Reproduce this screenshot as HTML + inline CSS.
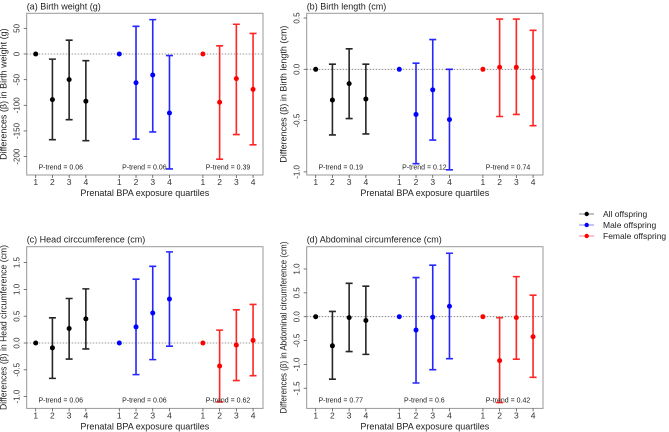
<!DOCTYPE html>
<html><head><meta charset="utf-8"><style>
body{margin:0;background:#fff;}
svg{display:block;font-family:"Liberation Sans",sans-serif;}
</style></head><body>
<svg id="chart" width="669" height="432" viewBox="0 0 669 432" xmlns="http://www.w3.org/2000/svg"></svg>
<script>
// ---- data ----
const groupNames = ["All offspring","Male offspring","Female offspring"];
const groupColors = ["#000000","#0000ff","#ff0000"];
const quartiles = ["1","2","3","4"];
// panel a: Birth weight (g)
const aEst = [[0,-89,-50,-92],[0,-56,-41,-115],[0,-94,-48,-69]];
const aLo  = [[0,-167,-128,-169],[0,-166,-152,-224],[0,-205,-157,-177]];
const aHi  = [[0,-10,27,-13],[0,54,67,-3],[0,16,58,40]];
const aTicks = [50,0,-50,-100,-150,-200];
const aP = ["0.06","0.06","0.39"];
// panel b: Birth length (cm)
const bEst = [[0,-0.30,-0.14,-0.29],[0,-0.44,-0.20,-0.49],[0,0.02,0.02,-0.08]];
const bLo  = [[0,-0.64,-0.48,-0.63],[0,-0.92,-0.69,-0.98],[0,-0.46,-0.44,-0.55]];
const bHi  = [[0,0.05,0.20,0.05],[0,0.06,0.29,0.00],[0,0.49,0.49,0.38]];
const bTicks = [0.5,0.0,-0.5,-1.0];
const bP = ["0.19","0.12","0.74"];
// panel c: Head circumference (cm)
const cEst = [[0,-0.09,0.27,0.45],[0,0.30,0.56,0.82],[0,-0.43,-0.04,0.05]];
const cLo  = [[0,-0.66,-0.30,-0.11],[0,-0.59,-0.31,-0.06],[0,-1.10,-0.70,-0.61]];
const cHi  = [[0,0.47,0.83,1.01],[0,1.19,1.43,1.70],[0,0.24,0.62,0.72]];
const cTicks = [1.5,1.0,0.5,0.0,-0.5,-1.0];
const cP = ["0.06","0.06","0.62"];
// panel d: Abdominal circumference (cm)
const dEst = [[0,-0.61,-0.02,-0.08],[0,-0.28,-0.01,0.22],[0,-0.92,-0.02,-0.42]];
const dLo  = [[0,-1.31,-0.73,-0.79],[0,-1.39,-1.11,-0.88],[0,-1.80,-0.89,-1.27]];
const dHi  = [[0,0.11,0.70,0.64],[0,0.82,1.08,1.33],[0,-0.02,0.84,0.45]];
const dTicks = [1.0,0.5,0.0,-0.5,-1.0,-1.5];
const dP = ["0.77","0.6","0.42"];

const NS="http://www.w3.org/2000/svg";
const svg=document.getElementById("chart");
function mk(tag,attrs,parent){const e=document.createElementNS(NS,tag);for(const k in attrs)e.setAttribute(k,attrs[k]);(parent||svg).appendChild(e);return e;}
function fmt(v,dec){return dec?v.toFixed(1):String(v);}

function panel(o){
  const g=mk("g",{});
  
  
  const L=o.x0,R=o.x0+236.3,T=o.y0,B=o.y0+161.7;
  const xs=i=>L+9+(i-1)*16.72;
  const ys=v=>o.zero-v*o.scale;
  const box=mk("rect",{x:L,y:T,width:R-L,height:B-T,fill:"none",stroke:"#999","stroke-width":1},g);
  
  
  const t=mk("text",{x:L,y:T-4,"font-size":9,fill:"#222"},g);t.textContent=o.title;
  
  
  const z=mk("line",{x1:L,x2:R,y1:ys(0),y2:ys(0),stroke:"#777","stroke-width":0.8,"stroke-dasharray":"1.5,1.5"},g);
  
  
  o.ticks.forEach(v=>{
    const y=ys(v);
    mk("line",{x1:L-3,x2:L,y1:y,y2:y,stroke:"#555","stroke-width":0.8},g);
    const tl=mk("text",{x:L-7,y:y,"font-size":8,fill:"#333","text-anchor":"middle",transform:`rotate(-90 ${L-7} ${y})`},g);
    tl.textContent=fmt(v,o.dec);
    
    
  });
  const yx=o.x0-20;
  const yt=mk("text",{x:yx,y:(T+B)/2,"font-size":9,fill:"#222","text-anchor":"middle",transform:`rotate(-90 ${yx} ${(T+B)/2})`},g);
  if(o.ylen){yt.setAttribute("textLength",o.ylen);yt.setAttribute("lengthAdjust","spacingAndGlyphs");}
  yt.textContent=o.ytitle;
  
  
  for(let gi=0;gi<3;gi++){
    for(let q=0;q<4;q++){
      const x=xs(gi*5+q+1);
      mk("line",{x1:x,x2:x,y1:B,y2:B+3,stroke:"#555","stroke-width":0.8},g);
      const xl=mk("text",{x:x,y:B+10,"font-size":8.5,fill:"#333","text-anchor":"middle"},g);
      xl.textContent=quartiles[q];
      
      
      const col=groupColors[gi];
      if(q>0){
        const eb=mk("path",{d:`M${x},${ys(o.lo[gi][q])}V${ys(o.hi[gi][q])}M${x-3.5},${ys(o.lo[gi][q])}H${x+3.5}M${x-3.5},${ys(o.hi[gi][q])}H${x+3.5}`,stroke:col,"stroke-width":1.6,fill:"none","stroke-opacity":0.85},g);
        
        
      }
      const pt=mk("circle",{cx:x,cy:ys(o.est[gi][q]),r:2.5,fill:col},g);
      
      
    }
    const pl=mk("text",{x:xs(gi*5+2.5),y:o.y0+156,"font-size":7,fill:"#222","text-anchor":"middle"},g);
    pl.textContent="P-trend = "+o.p[gi];
    
    
  }
  const xt=mk("text",{x:(L+R)/2,y:B+21,"font-size":9,fill:"#222","text-anchor":"middle"},g);
  xt.textContent="Prenatal BPA exposure quartiles";
  
  
}
panel({id:"panel-birth-weight",x0:26.7,y0:13.3,zero:54,scale:0.513,ticks:aTicks,dec:false,est:aEst,lo:aLo,hi:aHi,p:aP,title:"(a) Birth weight (g)",ytitle:"Differences (β) in Birth weight (g)"});
panel({id:"panel-birth-length",x0:306.7,y0:13.3,zero:69.3,scale:102.6,ticks:bTicks,dec:true,est:bEst,lo:bLo,hi:bHi,p:bP,title:"(b) Birth length (cm)",ytitle:"Differences (β) in Birth length (cm)"});
panel({id:"panel-head-circumference",x0:26.7,y0:246.7,zero:343,scale:53.6,ticks:cTicks,dec:true,est:cEst,lo:cLo,hi:cHi,p:cP,title:"(c) Head circcumference (cm)",ytitle:"Differences (β) in Head circumference (cm)",ylen:165});
panel({id:"panel-abdominal-circumference",x0:306.7,y0:246.7,zero:316.7,scale:47.7,ticks:dTicks,dec:true,est:dEst,lo:dLo,hi:dHi,p:dP,title:"(d) Abdominal circumference (cm)",ytitle:"Differences (β) in Abdominal circumference (cm)",ylen:172});

// legend
const lg=mk("g",{});


groupNames.forEach((n,i)=>{
  const y=214+i*11;
  const e=mk("g",{},lg);
  
  
  mk("line",{x1:579,x2:594,y1:y,y2:y,stroke:groupColors[i],"stroke-width":0.8,"stroke-opacity":0.6},e);
  mk("circle",{cx:586.7,cy:y,r:2.2,fill:groupColors[i]},e);
  const t=mk("text",{x:603,y:y+3.2,"font-size":8.5,fill:"#222"},e);t.textContent=n;
});
</script>
</body></html>
